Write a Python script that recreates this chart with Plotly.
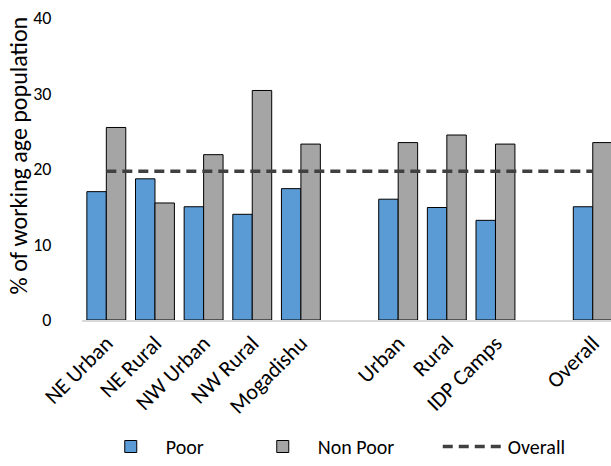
import plotly.graph_objects as go

categories = ["NE Urban", "NE Rural", "NW Urban", "NW Rural", "Mogadishu", "",
              "Urban", "Rural", "IDP Camps", "", "Overall"]
poor = [17.0, 18.7, 15.0, 14.0, 17.4, None, 16.0, 14.9, 13.2, None, 15.0]
non_poor = [25.5, 15.5, 21.9, 30.4, 23.3, None, 23.5, 24.5, 23.3, None, 23.5]
overall = [19.7] * len(categories)
y_ticks = [0, 10, 20, 30, 40]
y_title = "% of working age population"

x = list(range(len(categories)))
FONT = "Carlito, Lato, sans-serif"

fig = go.Figure()
fig.add_trace(go.Bar(x=x, y=poor, name="Poor", legendwidth=77,
                     marker=dict(color="#5B9BD5", line=dict(color="#000000", width=1))))
fig.add_trace(go.Bar(x=x, y=non_poor, name="Non Poor", legendwidth=115,
                     marker=dict(color="#A5A5A5", line=dict(color="#000000", width=1))))
fig.add_trace(go.Scatter(x=x, y=overall, name="Overall", mode="lines", legendwidth=90,
                         line=dict(color="#404040", width=3.3, dash="10px,6px")))

fig.update_layout(
    width=611, height=466,
    margin=dict(l=82, r=0, t=18, b=140),
    paper_bgcolor="white", plot_bgcolor="white",
    barmode="group", bargap=0.2, bargroupgap=0,
    font=dict(family=FONT, size=18, color="#000000"),
    showlegend=True,
    legend=dict(orientation="h", x=0.026, xanchor="left", y=-0.42, yanchor="middle",
                font=dict(size=20), itemwidth=60, traceorder="normal"),
    annotations=[dict(text=y_title, textangle=-90, xref="paper", yref="paper",
                      x=-0.121, y=0.545, xanchor="center", yanchor="middle",
                      showarrow=False, font=dict(size=24, color="#000000"))],
)
fig.update_xaxes(range=[-0.5, 10.375], tickmode="array", tickvals=x, ticktext=categories,
                 tickangle=-45, showgrid=False, showline=True, linecolor="#D9D9D9",
                 linewidth=1.5, ticks="", tickfont=dict(size=22), zeroline=False,
                 automargin=False)
fig.update_yaxes(range=[0, 40], tickvals=y_ticks, showgrid=False, showline=False,
                 zeroline=False, ticks="outside", ticklen=26, tickcolor="rgba(0,0,0,0)",
                 tickfont=dict(size=18), automargin=False)

fig.write_html("out.html", config={"displayModeBar": False},
               post_script="document.body.style.margin='0px';document.body.style.overflow='hidden';")
